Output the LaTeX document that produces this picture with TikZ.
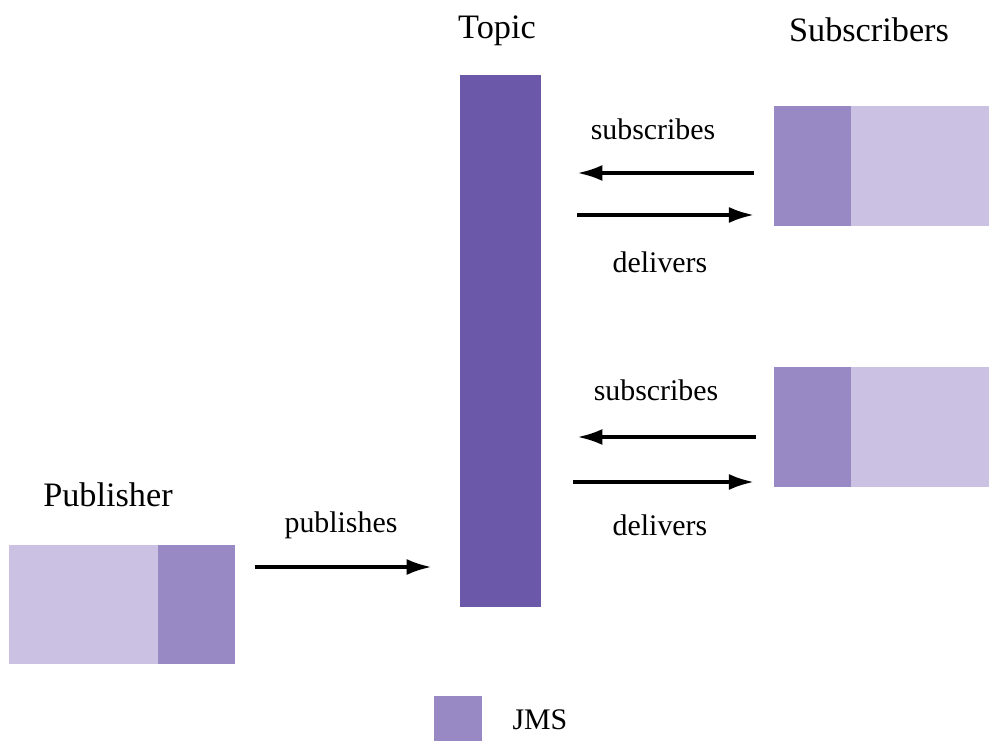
\documentclass[tikz,border=0pt]{standalone}
\usepackage{fontspec}
\setmainfont{Liberation Serif}
\usetikzlibrary{arrows.meta, positioning}
\usepackage{xcolor}

\definecolor{topicpurple}{HTML}{6B58A8}
\definecolor{jmspurple}{HTML}{9888C3}
\definecolor{apppurple}{HTML}{CBC1E2}

\begin{document}
\begin{tikzpicture}[
    block/.style={
        inner sep=0pt,
        line width=0.4pt,
        minimum height=2.37cm
    },
    jms/.style={
        block,
        fill=jmspurple,
        draw=jmspurple,
        minimum width=1.52cm
    },
    client/.style={
        block,
        fill=apppurple,
        draw=apppurple
    },
    title/.style={
        font=\fontsize{19.5}{22}\selectfont
    },
    label/.style={
        font=\fontsize{17}{20}\selectfont
    },
    arrow/.style={
        -{Latex[length=0.5cm, width=0.32cm]},
        line width=2pt
    }
]
\useasboundingbox (0,0) rectangle (19.78,-14.82);

% topic
\node[title] (topiclabel) at (9.94,-0.62) {Topic};
\node[fill=topicpurple, minimum width=1.62cm, minimum height=10.64cm,
      inner sep=0pt] (topic) at (10.01,-6.82) {};

% subscribers
\node[title] (sublabel) at (17.38,-0.6) {Subscribers};
\node[client, minimum width=2.76cm] (sub1) at (18.4,-3.32) {};
\node[jms, left=0pt of sub1] (sub1jms) {};
\node[client, minimum width=2.76cm] (sub2) at (18.4,-8.54) {};
\node[jms, left=0pt of sub2] (sub2jms) {};

% publisher
\node[title] (publabel) at (2.16,-9.9) {Publisher};
\node[client, minimum width=2.98cm] (pub) at (1.67,-12.09) {};
\node[jms, right=0pt of pub] (pubjms) {};

% rows of the arrows
\coordinate (pubrow) at (0,-11.34);
\coordinate (sub1in) at (0,-3.46);
\coordinate (sub1out) at (0,-4.3);
\coordinate (sub2in) at (0,-8.74);
\coordinate (sub2out) at (0,-9.64);

\node[label] (publishes) at (6.82,-10.5) {publishes};
\draw[arrow] ([xshift=0.4cm]pubjms.east |- pubrow) -- ([xshift=-0.56cm]topic.west |- pubrow);

\node[label] (subscribes1) at (13.06,-2.58) {subscribes};
\draw[arrow] ([xshift=-0.4cm]sub1jms.west |- sub1in) -- ([xshift=0.72cm]topic.east |- sub1in);
\draw[arrow] ([xshift=0.72cm]topic.east |- sub1out) -- ([xshift=-0.4cm]sub1jms.west |- sub1out);
\node[label] (delivers1) at (13.2,-5.24) {delivers};

\node[label] (subscribes2) at (13.12,-7.8) {subscribes};
\draw[arrow] ([xshift=-0.36cm]sub2jms.west |- sub2in) -- ([xshift=0.72cm]topic.east |- sub2in);
\draw[arrow] ([xshift=0.64cm]topic.east |- sub2out) -- ([xshift=-0.4cm]sub2jms.west |- sub2out);
\node[label] (delivers2) at (13.2,-10.5) {delivers};

% legend
\node[fill=jmspurple, minimum width=0.96cm, minimum height=0.96cm,
      inner sep=0pt] (legendbox) at (9.16,-14.4) {};
\node[label, right=0.48cm of legendbox] (legendtext) {JMS};

\end{tikzpicture}
\end{document}
